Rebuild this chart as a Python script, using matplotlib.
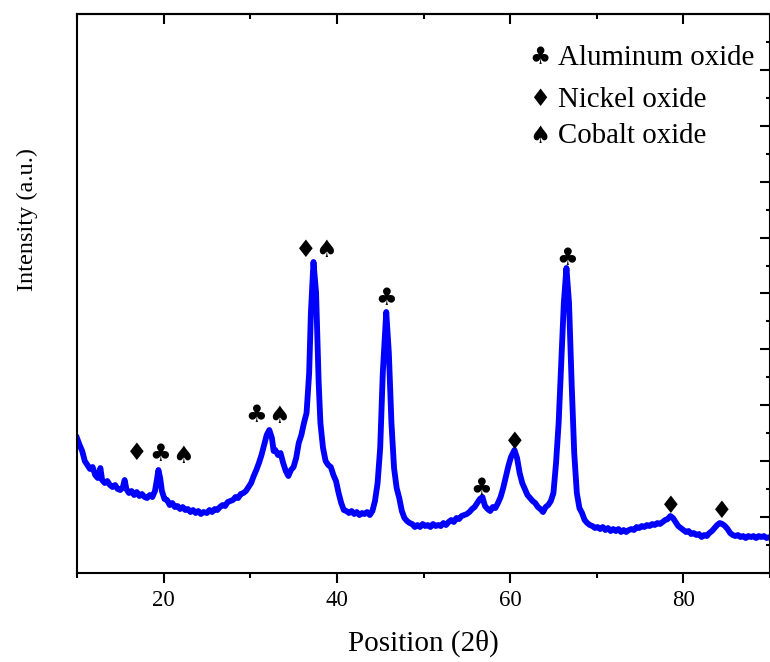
import matplotlib
matplotlib.use("Agg")
import matplotlib.pyplot as plt
from matplotlib.ticker import MultipleLocator, NullFormatter

# XRD pattern (2 theta in degrees, intensity in arbitrary units)
two_theta = [
    10.0, 10.3, 10.6, 10.9, 11.2, 11.5, 11.8, 12.1, 12.4, 12.7, 12.9, 13.2, 13.5, 13.8, 14.1,
    14.4, 14.7, 15.0, 15.3, 15.5, 15.7, 16.0, 16.3, 16.6, 16.9, 17.2, 17.5, 17.8, 18.1, 18.4,
    18.7, 19.0, 19.2, 19.4, 19.6, 19.8, 20.1, 20.4, 20.7, 21.0, 21.3, 21.6, 21.9, 22.2, 22.5,
    22.8, 23.1, 23.4, 23.7, 24.0, 24.3, 24.6, 25.0, 25.3, 25.6, 25.9, 26.2, 26.5, 26.8, 27.1,
    27.4, 27.7, 28.0, 28.3, 28.6, 28.9, 29.2, 29.5, 29.8, 30.1, 30.4, 30.7, 31.0, 31.3, 31.6,
    31.9, 32.2, 32.5, 32.7, 32.9, 33.2, 33.5, 33.8, 34.1, 34.4, 34.7, 35.0, 35.3, 35.6, 35.9,
    36.2, 36.5, 36.8, 37.0, 37.3, 37.6, 37.9, 38.1, 38.4, 38.7, 39.0, 39.3, 39.6, 39.9, 40.2,
    40.5, 40.8, 41.1, 41.4, 41.7, 42.0, 42.3, 42.6, 42.9, 43.2, 43.5, 43.8, 44.1, 44.4, 44.7,
    45.0, 45.3, 45.7, 46.0, 46.3, 46.6, 46.9, 47.2, 47.5, 47.8, 48.1, 48.4, 48.7, 49.0, 49.3,
    49.6, 49.9, 50.2, 50.5, 50.8, 51.1, 51.4, 51.7, 52.0, 52.3, 52.6, 52.9, 53.2, 53.5, 53.8,
    54.1, 54.4, 54.7, 55.0, 55.3, 55.6, 55.9, 56.2, 56.5, 56.8, 57.1, 57.4, 57.7, 58.0, 58.3,
    58.6, 58.9, 59.2, 59.5, 59.8, 60.1, 60.5, 60.8, 61.1, 61.4, 61.7, 62.0, 62.3, 62.6, 62.9,
    63.2, 63.5, 63.8, 64.1, 64.4, 64.7, 65.0, 65.3, 65.6, 65.9, 66.2, 66.5, 66.8, 67.1, 67.4,
    67.7, 68.0, 68.3, 68.6, 68.9, 69.2, 69.5, 69.8, 70.1, 70.4, 70.7, 71.0, 71.3, 71.6, 71.9,
    72.2, 72.5, 72.8, 73.1, 73.4, 73.7, 74.0, 74.3, 74.6, 74.9, 75.2, 75.5, 75.8, 76.1, 76.4,
    76.7, 77.0, 77.3, 77.6, 77.9, 78.2, 78.5, 78.8, 79.1, 79.4, 79.7, 80.0, 80.3, 80.6, 80.9,
    81.2, 81.5, 81.8, 82.1, 82.4, 82.7, 83.0, 83.3, 83.6, 83.9, 84.2, 84.5, 84.8, 85.1, 85.4,
    85.7, 86.0, 86.3, 86.6, 86.9, 87.2, 87.5, 87.8, 88.1, 88.4, 88.7, 89.0, 89.3, 89.6, 90.0,
]
intensity = [
    135, 128, 122, 112, 108, 104, 106, 98, 95, 105, 93, 90, 92, 88, 86,
    88, 84, 83, 86, 93, 84, 80, 82, 78, 81, 77, 79, 76, 75, 78,
    76, 82, 92, 103, 95, 82, 74, 73, 68, 70, 66, 67, 64, 66, 63,
    64, 61, 63, 60, 62, 59, 61, 60, 63, 61, 64, 63, 66, 68, 67,
    71, 72, 73, 76, 75, 79, 80, 82, 86, 90, 97, 103, 110, 118, 128,
    138, 143, 135, 122, 123, 118, 120, 110, 102, 97, 103, 106, 115, 130, 138,
    150, 160, 200, 260, 311, 280, 190, 150, 125, 112, 108, 106, 98, 92, 80,
    70, 63, 62, 60, 62, 59, 61, 58, 60, 59, 61, 58, 62, 72, 90,
    125, 200, 261, 220, 150, 105, 85, 75, 62, 55, 52, 50, 49, 46, 48,
    46, 49, 47, 48, 46, 49, 47, 48, 47, 50, 48, 51, 53, 51, 55,
    54, 57, 58, 59, 61, 64, 66, 70, 74, 76, 67, 64, 62, 66, 65,
    70, 76, 85, 96, 107, 116, 123, 115, 100, 90, 84, 78, 75, 72, 70,
    66, 64, 61, 66, 68, 72, 80, 110, 150, 210, 270, 305, 270, 190, 120,
    80, 65, 60, 53, 50, 48, 47, 45, 46, 44, 46, 43, 45, 42, 44,
    42, 44, 41, 43, 41, 43, 44, 43, 46, 45, 47, 46, 48, 47, 49,
    48, 50, 49, 51, 53, 54, 57, 55, 51, 47, 45, 43, 41, 42, 39,
    40, 38, 39, 36, 38, 37, 40, 42, 45, 48, 50, 49, 47, 44, 40,
    38, 37, 38, 36, 37, 35, 37, 36, 37, 35, 37, 36, 37, 35, 36,
]

# phase markers above the peaks
marker_symbols = ['♦', '♣', '♠', '♣', '♠', '♦', '♠', '♣', '♣', '♦', '♣', '♦', '♦']
marker_x = [16.9, 19.6, 22.2, 30.7, 33.3, 36.4, 38.75, 45.7, 56.7, 60.5, 66.6, 78.5, 84.4]
marker_y = [123, 121, 120, 160, 160, 325, 325, 277, 87, 134, 317, 70, 65]

legend_symbols = ['♣', '♦', '♠']
legend_labels = ['Aluminum oxide', 'Nickel oxide', 'Cobalt oxide']

plt.rcParams['font.family'] = ['Liberation Serif', 'DejaVu Sans']

fig = plt.figure(figsize=(7.7, 6.62), dpi=100)
ax = fig.add_axes([0.1, 0.1344, 0.9, 0.8445])

ax.plot(two_theta, intensity, color='#0000ff', lw=4.2, solid_joinstyle='round')

for s, x, y in zip(marker_symbols, marker_x, marker_y):
    ax.text(x, y, s, ha='center', va='center_baseline', fontsize=17.5, family=['DejaVu Sans'])

legend_y = [0.927, 0.852, 0.787]
for s, lab, y in zip(legend_symbols, legend_labels, legend_y):
    ax.text(0.668, y, s, transform=ax.transAxes, ha='center', va='center_baseline',
            fontsize=17, family=['DejaVu Sans'])
    ax.text(0.694, y, lab, transform=ax.transAxes, ha='left', va='center_baseline',
            fontsize=20.8)

ax.set_xlim(10, 90)
ax.set_ylim(0, 559)

for sp in ax.spines.values():
    sp.set_linewidth(1.5)

# bottom axis: outward ticks with labels
ax.xaxis.set_major_locator(MultipleLocator(20))
ax.xaxis.set_minor_locator(MultipleLocator(10))
ax.tick_params(axis='x', which='major', direction='out', length=7, width=1.5,
               labelsize=16.5, pad=5)
ax.tick_params(axis='x', which='minor', direction='out', length=3.5, width=1.5)

# top axis: inward ticks, no labels
top = ax.secondary_xaxis('top')
top.xaxis.set_major_locator(MultipleLocator(20))
top.xaxis.set_minor_locator(MultipleLocator(10))
top.xaxis.set_major_formatter(NullFormatter())
top.tick_params(which='major', direction='in', length=7, width=1.5)
top.tick_params(which='minor', direction='in', length=3.5, width=1.5)
top.spines['top'].set_linewidth(1.5)

# y ticks only on the right, inward, no labels
ax.yaxis.set_major_locator(MultipleLocator(55.9))
ax.yaxis.set_minor_locator(MultipleLocator(27.95))
ax.yaxis.set_major_formatter(NullFormatter())
ax.tick_params(axis='y', which='both', left=False, right=True, labelleft=False,
               direction='in', width=1.5)
ax.tick_params(axis='y', which='major', length=7)
ax.tick_params(axis='y', which='minor', length=3)

ax.set_xlabel('Position (2θ)', fontsize=21, labelpad=14)
fig.text(27 / 770, 1 - 219 / 662, 'Intensity (a.u.)', rotation=90,
         ha='center', va='center', fontsize=17.5)

fig.savefig('out.png', dpi=100)
